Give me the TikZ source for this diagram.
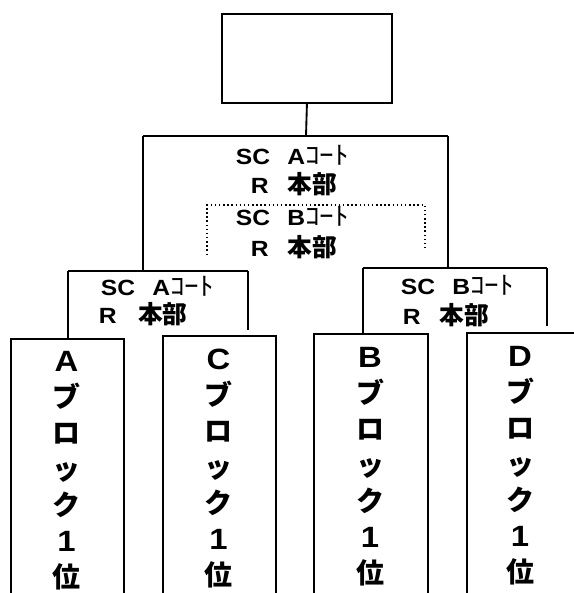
\documentclass[tikz,border=0pt]{standalone}
\usepackage{fontspec}
\setmainfont{Liberation Sans}[FakeStretch=1.12]
\newfontfamily\jp{Noto Sans CJK JP}
\newfontfamily\jph{Noto Sans CJK JP}[FakeStretch=1.15]
\begin{document}
\begin{tikzpicture}[x=0.75pt,y=-0.75pt,line width=1.4pt,
  frame/.style={draw,rectangle,inner sep=0pt,anchor=north west},
  head/.style={anchor=base west,inner sep=0pt,font=\fontsize{16.5}{18}\selectfont\bfseries},
  coltxt/.style={anchor=north,inner sep=0pt,align=center,font=\fontsize{21}{27}\selectfont\bfseries},
  dot/.style={dotted,line width=1.1pt}]
\clip (0,0) rectangle (574,593);
\fill[white] (0,0) rectangle (574,593);
% top empty box
\node[frame,minimum width=127.5pt,minimum height=66.75pt] (top) at (221,13) {};
% bracket corners
\coordinate (tbl) at (143,136);
\coordinate (tbr) at (448,136);
\coordinate (tstem) at (306,136);
\coordinate (lsl) at (68,271);
\coordinate (lsr) at (248,271);
\coordinate (lsrend) at (248,330);
\coordinate (rsl) at (363,268);
\coordinate (rsr) at (547,268);
\coordinate (rsrend) at (547,326);
\coordinate (dl) at (207,205);
\coordinate (dr) at (425,205);
\coordinate (dlend) at (207,255);
\coordinate (drend) at (425,250);
% column boxes
\node[frame,minimum width=84.75pt,minimum height=211.5pt] (Abox) at (10,338) {};
\node[frame,minimum width=84.75pt,minimum height=213.75pt] (Cbox) at (162,335) {};
\node[frame,minimum width=85.5pt,minimum height=215.25pt] (Bbox) at (313,333) {};
\node[frame,minimum width=84pt,minimum height=216pt] (Dbox) at (466,332) {};
% column texts
\node[coltxt] (At) at (66.5,350) {{\fontsize{22}{27}\selectfont A}\\{\jp ブ}\\{\jp ロ}\\{\jp ッ}\\{\jp ク}\\{\fontsize{22}{27}\selectfont 1}\\{\jp 位}};
\node[coltxt] (Ct) at (218.5,348) {{\fontsize{22}{27}\selectfont C}\\{\jp ブ}\\{\jp ロ}\\{\jp ッ}\\{\jp ク}\\{\fontsize{22}{27}\selectfont 1}\\{\jp 位}};
\node[coltxt] (Bt) at (370,346) {{\fontsize{22}{27}\selectfont B}\\{\jp ブ}\\{\jp ロ}\\{\jp ッ}\\{\jp ク}\\{\fontsize{22}{27}\selectfont 1}\\{\jp 位}};
\node[coltxt] (Dt) at (520,345) {{\fontsize{22}{27}\selectfont D}\\{\jp ブ}\\{\jp ロ}\\{\jp ッ}\\{\jp ク}\\{\fontsize{22}{27}\selectfont 1}\\{\jp 位}};
% headers
\node[head] (h1a) at (235,164) {SC\hspace{13pt}A{\jph\mdseries\fontsize{19}{18}\selectfont ｺｰﾄ}};
\node[head] (h1b) at (250,193) {R\hspace{14pt}{\jp\fontsize{18.5}{18}\selectfont 本部}};
\node[head] (h2a) at (235,225) {SC\hspace{13pt}B{\jph\mdseries\fontsize{19}{18}\selectfont ｺｰﾄ}};
\node[head] (h2b) at (250,256) {R\hspace{14pt}{\jp\fontsize{18.5}{18}\selectfont 本部}};
\node[head] (h3a) at (100,295) {SC\hspace{13pt}A{\jph\mdseries\fontsize{19}{18}\selectfont ｺｰﾄ}};
\node[head] (h3b) at (98,323) {R\hspace{16pt}{\jp\fontsize{18.5}{18}\selectfont 本部}};
\node[head] (h4a) at (400,294) {SC\hspace{13pt}B{\jph\mdseries\fontsize{19}{18}\selectfont ｺｰﾄ}};
\node[head] (h4b) at (402,324) {R\hspace{14pt}{\jp\fontsize{18.5}{18}\selectfont 本部}};
% connectors
\draw (top.south) -- (tstem);
\draw (tbl) -- (tbr);
\draw (tbl) -- (tbl |- lsl);
\draw (tbr) -- (tbr |- rsl);
\draw[dot] (dlend) -- (dl) -- (dr) -- (drend);
\draw (lsl) -- (lsr);
\draw (lsl) -- (lsl |- Abox.north);
\draw (lsr) -- (lsrend);
\draw (rsl) -- (rsr);
\draw (rsl) -- (rsl |- Bbox.north);
\draw (rsr) -- (rsrend);
\end{tikzpicture}
\end{document}
